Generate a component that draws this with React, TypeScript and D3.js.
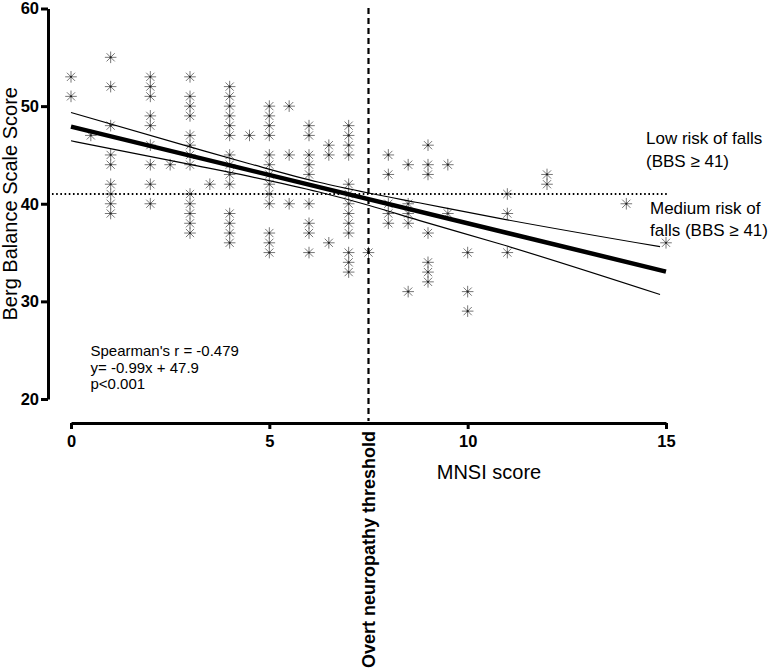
import React, { useEffect, useRef } from "react";
import * as d3 from "d3";

// ---- data ----
const mnsiColumns = [0, 0.5, 1, 2, 2.5, 3, 3.5, 4, 4.5, 5, 5.5, 6, 6.5, 7, 7.5, 8, 8.5, 9, 9.5, 10, 11, 12, 14, 15];
const bbsColumns = [
  [53, 51],
  [47],
  [55, 52, 48, 45, 44, 42, 41, 40, 39],
  [53, 52, 51, 49, 48, 46, 44, 42, 40],
  [44],
  [53, 51, 50, 49, 47, 46, 45, 44, 41, 40, 39, 38, 37],
  [42],
  [52, 51, 50, 49, 48, 47, 45, 44, 43, 42, 39, 38, 37, 36],
  [47],
  [50, 49, 48, 47, 45, 44, 43, 42, 41, 40, 37, 36, 35],
  [50, 45, 40],
  [48, 47, 45, 44, 43, 40, 38, 37, 35],
  [46, 45, 36],
  [48, 47, 46, 45, 42, 41, 40, 39, 38, 37, 35, 34, 33],
  [35],
  [45, 43, 40, 39, 38],
  [44, 40, 39, 38, 31],
  [46, 44, 43, 37, 34, 33, 32],
  [44, 39],
  [35, 31, 29],
  [41, 39, 35],
  [43, 42],
  [40],
  [36],
];
const xTicks = [0, 5, 10, 15];
const yTicks = [20, 30, 40, 50, 60];
const regressionX = [0, 15];
const regressionY = [47.9, 33.05];
const bandX = [0, 3, 4.5, 6.25, 7.5, 8.77, 10.8, 14.85];
const bandUpper = [49.35, 45.83, 44.1, 42.2, 41.1, 40.1, 38.5, 35.6];
const bandLower = [46.45, 44.03, 42.8, 41.2, 39.85, 38.3, 35.9, 30.7];
const fallsThreshold = 41;
const neuropathyThreshold = 7.5;
const statsLines = ["Spearman's r = -0.479", "y= -0.99x + 47.9", "p<0.001"];
const lowRiskLines = ["Low risk of falls", "(BBS \u2265 41)"];
const mediumRiskLines = ["Medium risk of", "falls (BBS \u2265 41)"];
const xTitle = "MNSI score";
const yTitle = "Berg Balance Scale Score";
const thresholdLabel = "Overt neuropathy threshold";

const W = 773;
const H = 670;
const FONT = "'Liberation Sans', Arial, Helvetica, sans-serif";

export default function App() {
  const xAxisRef = useRef<SVGGElement>(null);
  const yAxisRef = useRef<SVGGElement>(null);

  const x = d3.scaleLinear().domain([0, 15]).range([71, 666]);
  const y = d3.scaleLinear().domain([20, 60]).range([399, 8.5]);

  const points: { mx: number; b: number }[] = [];
  mnsiColumns.forEach((mx, i) => bbsColumns[i].forEach((b) => points.push({ mx, b })));

  const regLine = d3
    .line<number>()
    .x((d) => x(regressionX[d]))
    .y((d) => y(regressionY[d]))(regressionX.map((_, i) => i));

  const bandLine = (vals: number[]) =>
    d3
      .line<number>()
      .curve(d3.curveMonotoneX)
      .x((d) => x(bandX[d]))
      .y((d) => y(vals[d]))(bandX.map((_, i) => i));

  useEffect(() => {
    const gx = d3.select(xAxisRef.current!);
    gx.call(d3.axisBottom(x).tickValues(xTicks).tickSize(6).tickSizeOuter(0).tickPadding(6).tickFormat(d3.format("d")));
    gx.select(".domain").attr("stroke", "#000").attr("stroke-width", 3);
    gx.selectAll(".tick line").attr("stroke", "#000").attr("stroke-width", 3);
    gx.selectAll(".tick text")
      .attr("font-family", FONT)
      .attr("font-weight", "bold")
      .attr("font-size", 16.5)
      .attr("fill", "#000");

    const gy = d3.select(yAxisRef.current!);
    gy.call(d3.axisLeft(y).tickValues(yTicks).tickSize(7).tickSizeOuter(0).tickPadding(2).tickFormat(d3.format("d")));
    gy.select(".domain").attr("stroke", "#000").attr("stroke-width", 3);
    gy.selectAll(".tick line").attr("stroke", "#000").attr("stroke-width", 3);
    gy.selectAll(".tick text")
      .attr("font-family", FONT)
      .attr("font-weight", "bold")
      .attr("font-size", 16.5)
      .attr("fill", "#000");
  }, []);

  const starPath = (cx: number, cy: number) => {
    const r = 5.8;
    const d = r * Math.SQRT1_2;
    const p = d3.path();
    p.moveTo(cx - r, cy); p.lineTo(cx + r, cy);
    p.moveTo(cx, cy - r); p.lineTo(cx, cy + r);
    p.moveTo(cx - d, cy - d); p.lineTo(cx + d, cy + d);
    p.moveTo(cx - d, cy + d); p.lineTo(cx + d, cy - d);
    return p.toString();
  };

  const tx = x(neuropathyThreshold);

  return (
    <div style={{ position: "fixed", left: 0, top: 0 }}>
      <svg width={W} height={H} style={{ display: "block", background: "#fff" }}>
        <rect width={W} height={H} fill="#fff" />
        {/* points */}
        <g>
          {points.map((p, i) => (
            <g key={i}>
              <path d={starPath(x(p.mx), y(p.b))} stroke="#777" strokeWidth={1} fill="none" />
              <circle cx={x(p.mx)} cy={y(p.b)} r={1.1} fill="#222" />
            </g>
          ))}
        </g>
        {/* confidence band */}
        <path d={bandLine(bandUpper) || ""} fill="none" stroke="#000" strokeWidth={1.2} />
        <path d={bandLine(bandLower) || ""} fill="none" stroke="#000" strokeWidth={1.2} />
        {/* regression */}
        <path d={regLine || ""} fill="none" stroke="#000" strokeWidth={4.5} />
        {/* falls threshold */}
        <line
          x1={x(-0.48)}
          x2={x(15.05)}
          y1={y(fallsThreshold)}
          y2={y(fallsThreshold)}
          stroke="#000"
          strokeWidth={2}
          strokeDasharray="1.6 2.6"
        />
        {/* neuropathy threshold */}
        <line x1={tx} x2={tx} y1={8} y2={421} stroke="#000" strokeWidth={2.2} strokeDasharray="6 4" />
        {/* axes */}
        <g ref={xAxisRef} transform="translate(0,423)" />
        <g ref={yAxisRef} transform="translate(48,0)" />
        {/* axis titles */}
        <text x={489} y={479} textAnchor="middle" fontFamily={FONT} fontSize={20} fill="#000">
          {xTitle}
        </text>
        <text
          transform={`translate(17,${(y(20) + y(60)) / 2}) rotate(-90)`}
          textAnchor="middle"
          fontFamily={FONT}
          fontSize={20}
          fill="#000"
        >
          {yTitle}
        </text>
        <text
          transform={`translate(${tx + 6},431) rotate(-90)`}
          textAnchor="end"
          fontFamily={FONT}
          fontSize={18}
          fontWeight="bold"
          fill="#000"
        >
          {thresholdLabel}
        </text>
        {/* stats */}
        {statsLines.map((s, i) => (
          <text key={s} x={90.5} y={355.7 + i * 16.8} fontFamily={FONT} fontSize={15} fill="#000">
            {s}
          </text>
        ))}
        {/* risk labels */}
        {lowRiskLines.map((s, i) => (
          <text key={s} x={646} y={144.3 + i * 22.4} fontFamily={FONT} fontSize={17} fill="#000">
            {s}
          </text>
        ))}
        {mediumRiskLines.map((s, i) => (
          <text key={s} x={650} y={214 + i * 22.4} fontFamily={FONT} fontSize={17} fill="#000">
            {s}
          </text>
        ))}
      </svg>
    </div>
  );
}
